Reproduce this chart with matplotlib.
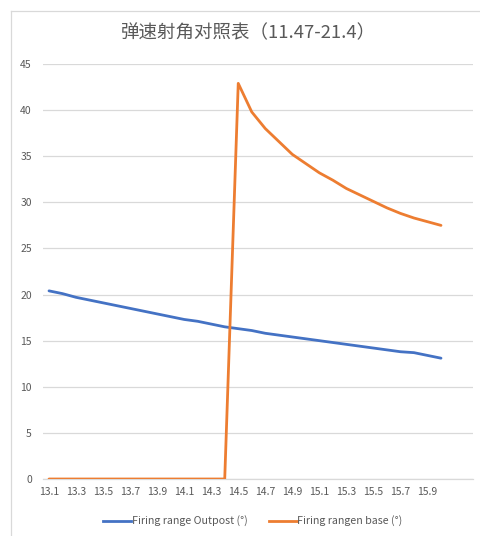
import matplotlib

matplotlib.use("Agg")

import matplotlib.pyplot as plt
from matplotlib.lines import Line2D

plt.rcParams["font.family"] = ["Noto Sans CJK SC", "DejaVu Sans"]

# muzzle speed categories, 13.1 .. 16.0
speeds = [f"{13.1 + 0.1 * i:.1f}" for i in range(30)]

outpost_angle = [
    20.4, 20.1, 19.7, 19.4, 19.1, 18.8, 18.5, 18.2, 17.9, 17.6,
    17.3, 17.1, 16.8, 16.5, 16.3, 16.1, 15.8, 15.6, 15.4, 15.2,
    15.0, 14.8, 14.6, 14.4, 14.2, 14.0, 13.8, 13.7, 13.4, 13.1,
]
base_angle = [
    0, 0, 0, 0, 0, 0, 0, 0, 0, 0,
    0, 0, 0, 0, 42.9, 39.8, 38.0, 36.6, 35.2, 34.2,
    33.2, 32.4, 31.5, 30.8, 30.1, 29.4, 28.8, 28.3, 27.9, 27.5,
]
y_ticks = [0, 5, 10, 15, 20, 25, 30, 35, 40, 45]

TITLE = "弹速射角对照表（11.47-21.4）"
SERIES_NAMES = ["Firing range Outpost (°)", "Firing rangen base (°)"]
COLORS = ["#4472C4", "#ED7D31"]
TEXT_GRAY = "#595959"
GRID_GRAY = "#D9D9D9"

W, H, DPI = 480, 536, 100
fig = plt.figure(figsize=(W / DPI, H / DPI), dpi=DPI)

# plot area in pixel coordinates
left, right, top, bottom = 43, 473, 64, 479
ax = fig.add_axes([left / W, 1 - bottom / H, (right - left) / W, (bottom - top) / H])

x = list(range(len(speeds)))
ax.plot(x, outpost_angle, color=COLORS[0], lw=2.0, solid_capstyle="round",
        solid_joinstyle="round", zorder=3)
ax.plot(x, base_angle, color=COLORS[1], lw=2.0, solid_capstyle="round",
        solid_joinstyle="round", zorder=3)

# category 0 sits at px 49, category 29 at px 441
px_per_cat = (441 - 49) / 29
ax.set_xlim(-(49 - left) / px_per_cat, 29 + (right - 441) / px_per_cat)
ax.set_ylim(0, 45)

ax.set_yticks(y_ticks)
ax.set_xticks(x[::2])
ax.set_xticklabels(speeds[::2])
ax.tick_params(axis="both", length=0, labelsize=7.5, colors=TEXT_GRAY)
ax.tick_params(axis="y", pad=8)
ax.tick_params(axis="x", pad=6)

ax.grid(axis="y", color=GRID_GRAY, lw=0.9)
ax.set_axisbelow(True)
for side in ["top", "right", "left"]:
    ax.spines[side].set_visible(False)
ax.spines["bottom"].set_color(GRID_GRAY)
ax.spines["bottom"].set_linewidth(0.9)

fig.text(248 / W, 1 - 33 / H, TITLE, ha="center", va="center",
         fontsize=13.3, color=TEXT_GRAY)

handles = [Line2D([], [], color=c, lw=2.0) for c in COLORS]
fig.legend(handles, SERIES_NAMES, loc="center", bbox_to_anchor=(253 / W, 1 - 521 / H),
           ncol=2, frameon=False, fontsize=7.7, labelcolor=TEXT_GRAY,
           handlelength=2.6, handletextpad=0.05, columnspacing=2.0)

# chart frame: only top and left edges fall inside the image
fig.add_artist(Line2D([11 / W, 1], [1 - 11 / H, 1 - 11 / H], color=GRID_GRAY, lw=0.9))
fig.add_artist(Line2D([11 / W, 11 / W], [0, 1 - 11 / H], color=GRID_GRAY, lw=0.9))

fig.savefig("out.png", dpi=DPI)
